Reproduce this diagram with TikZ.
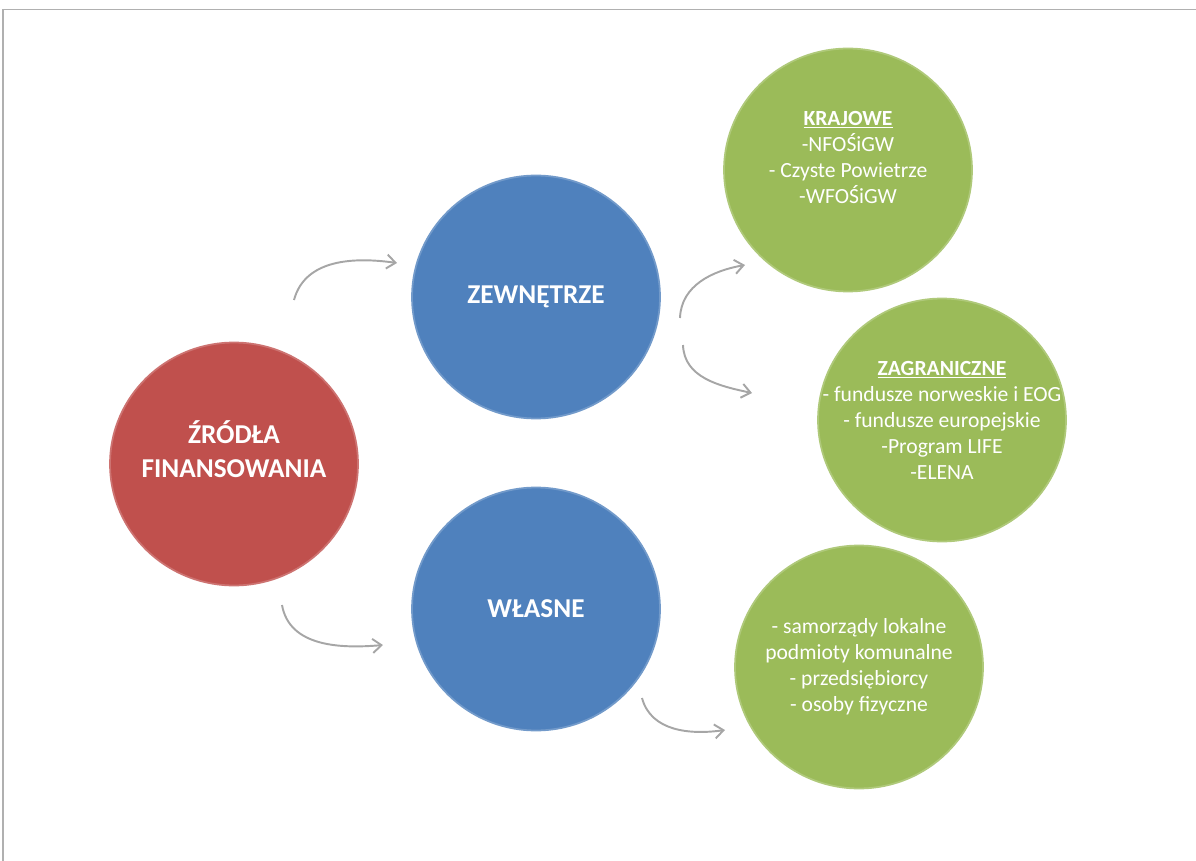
\documentclass[tikz,border=0pt]{standalone}
\usepackage{fontspec}
\setmainfont{Carlito}
\usetikzlibrary{arrows.meta,shapes.geometric}
\definecolor{zrRed}{HTML}{C0504D}
\definecolor{zrBlue}{HTML}{4F81BD}
\definecolor{zrGreen}{HTML}{9BBB59}
\definecolor{zrArrow}{HTML}{A6A6A6}
\definecolor{zrFrame}{HTML}{B0B0B0}
\tikzset{
	disc/.style={ellipse,minimum width=4.96cm,minimum height=4.86cm,inner sep=0pt,line width=1pt},
	redDisc/.style={disc,fill=zrRed,draw=zrRed!80!white},
	blueDisc/.style={disc,fill=zrBlue,draw=zrBlue!80!white},
	greenDisc/.style={disc,fill=zrGreen,draw=zrGreen!80!white},
	head/.style={text=white,align=center,font=\bfseries\fontsize{15.5}{19.3}\selectfont},
	txt/.style={text=white,align=center,font=\fontsize{12.3}{14.8}\selectfont},
	flow/.style={draw=zrArrow,line width=1.1pt,-{Straight Barb[length=5pt,width=8pt]}}
}
\begin{document}
\begin{tikzpicture}[x=0.02cm,y=0.02cm]
		\useasboundingbox (0,0) rectangle (1196,-861);
		\draw[zrFrame,line width=1.1pt] (3,-861) -- (3,-9.5) -- (1196,-9.5);
		\node[redDisc,label={[head,yshift=0.3cm]center:ŹRÓDŁA\\FINANSOWANIA}] (src) at (234,-464) {};
		\node[blueDisc,label={[head]center:ZEWNĘTRZE}] (zew) at (536,-297) {};
		\node[blueDisc,label={[head]center:WŁASNE}] (wla) at (536,-609) {};
		\node[greenDisc,label={[txt,yshift=0.26cm]center:\underline{\textbf{KRAJOWE}}\\-NFOŚiGW\\- Czyste Powietrze\\-WFOŚiGW}] (kra) at (848,-170) {};
		\node[greenDisc,label={[txt]center:\underline{\textbf{ZAGRANICZNE}}\\- fundusze norweskie i EOG\\- fundusze europejskie\\-Program LIFE\\-ELENA}] (zag) at (942,-420) {};
		\node[greenDisc,label={[txt]center:- samorządy lokalne\\podmioty komunalne\\- przedsiębiorcy\\- osoby fizyczne}] (osb) at (859,-667) {};
		\draw[flow] ([shift={(60,164)}]src.center) to[out=75,in=172] ([shift={(-139,34)}]zew.center);
		\draw[flow] ([shift={(48,-141)}]src.center) to[out=-80,in=185] ([shift={(-153,-36)}]wla.center);
		\draw[flow] ([shift={(144,-21)}]zew.center) to[out=88,in=190] ([shift={(-103,-95)}]kra.center);
		\draw[flow] ([shift={(147,-48)}]zew.center) to[out=-88,in=168] ([shift={(-190,27)}]zag.center);
		\draw[flow] ([shift={(106,-89)}]wla.center) to[out=-75,in=188] ([shift={(-134,-63)}]osb.center);
\end{tikzpicture}
\end{document}
